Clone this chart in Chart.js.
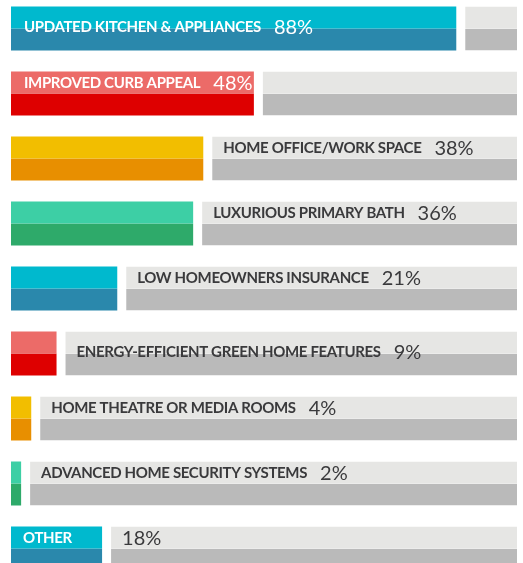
<!DOCTYPE html>
<html><head><meta charset="utf-8">
<script src="https://cdn.jsdelivr.net/npm/chart.js@4/dist/chart.umd.min.js"></script>
<style>
html,body{margin:0;padding:0;background:#fff;overflow:hidden;width:523px;height:563px;}
#wrap{position:absolute;left:0;top:-4px;width:523px;height:585px;}
</style></head><body>
<div id="wrap"><canvas id="c"></canvas></div>
<script>
const categories = [
  'UPDATED KITCHEN & APPLIANCES',
  'IMPROVED CURB APPEAL',
  'HOME OFFICE/WORK SPACE',
  'LUXURIOUS PRIMARY BATH',
  'LOW HOMEOWNERS INSURANCE',
  'ENERGY-EFFICIENT GREEN HOME FEATURES',
  'HOME THEATRE OR MEDIA ROOMS',
  'ADVANCED HOME SECURITY SYSTEMS',
  'OTHER'
];
const percentValues = [88, 48, 38, 36, 21, 9, 4, 2, 18];
const scaleMax = 100;
const remainderValues = percentValues.map(v => scaleMax - v);

// styles (kept separate from data)
const topColors = ['#00B9CE','#EC6B68','#F2BE00','#3DCFA5','#00B9CE','#EC6B68','#F2BE00','#3DCFA5','#00B9CE'];
const bottomColors = ['#2A88AC','#DE0000','#E88F00','#2EAA6A','#2A88AC','#DE0000','#E88F00','#2EAA6A','#2A88AC'];
const labelPlacement = ['inside','inside','after','after','after','after','after','after','split'];
const labelDy = [9,0,0,0,0,9,0,0,0];

const GAP = 9;
const grayBorder = {top:0,right:0,bottom:0,left:GAP};

const labelPlugin = {
  id: 'rowLabels',
  afterDatasetsDraw(chart) {
    const ctx = chart.ctx;
    const mTop = chart.getDatasetMeta(0);
    const mGray = chart.getDatasetMeta(1);
    const labelFont = 'bold 15px Lato, "Open Sans", sans-serif';
    const pctFont = '400 20px Lato, "Open Sans", sans-serif';
    ctx.save();
    ctx.textAlign = 'left';
    ctx.textBaseline = 'alphabetic';
    categories.forEach((label, i) => {
      const bar = mTop.data[i];
      const gray = mGray.data[i];
      const barStart = Math.min(bar.x, bar.base);
      const grayStart = Math.min(gray.x, gray.base) + GAP;
      const cy = bar.y + labelDy[i];
      const pctText = percentValues[i] + '%';
      ctx.font = labelFont;
      ctx.letterSpacing = '-0.35px';
      const lw = ctx.measureText(label).width;
      let lx, px, lc, pc;
      if (labelPlacement[i] === 'inside') {
        lx = barStart + 13; px = lx + lw + 13; lc = '#ffffff'; pc = '#ffffff';
      } else if (labelPlacement[i] === 'split') {
        lx = barStart + 12; px = grayStart + 11; lc = '#ffffff'; pc = '#3a3a3c';
      } else {
        lx = grayStart + 11; px = lx + lw + 13; lc = '#3a3a3c'; pc = '#3a3a3c';
      }
      ctx.fillStyle = lc;
      ctx.fillText(label, lx, cy + 15 * 0.36);
      ctx.letterSpacing = '0px';
      ctx.font = pctFont;
      ctx.fillStyle = pc;
      ctx.fillText(pctText, px, cy + 20 * 0.36);
    });
    ctx.restore();
  }
};

new Chart(document.getElementById('c'), {
  type: 'bar',
  data: {
    labels: categories,
    datasets: [
      { data: percentValues, backgroundColor: topColors, stack: 'top', borderWidth: 0 },
      { data: remainderValues, backgroundColor: '#E6E6E4', stack: 'top', borderWidth: grayBorder, borderColor: '#ffffff', borderSkipped: false },
      { data: percentValues, backgroundColor: bottomColors, stack: 'bot', borderWidth: 0 },
      { data: remainderValues, backgroundColor: '#BABABA', stack: 'bot', borderWidth: grayBorder, borderColor: '#ffffff', borderSkipped: false }
    ]
  },
  options: {
    indexAxis: 'y',
    responsive: true,
    maintainAspectRatio: false,
    animation: false,
    barPercentage: 1,
    categoryPercentage: 44 / 65,
    layout: { padding: { left: 11, right: 6, top: 0, bottom: 0 } },
    scales: {
      x: { display: false, stacked: true, min: 0, max: scaleMax },
      y: { display: false }
    },
    plugins: { legend: { display: false }, tooltip: { enabled: false } }
  },
  plugins: [labelPlugin]
});
</script>
</body></html>
